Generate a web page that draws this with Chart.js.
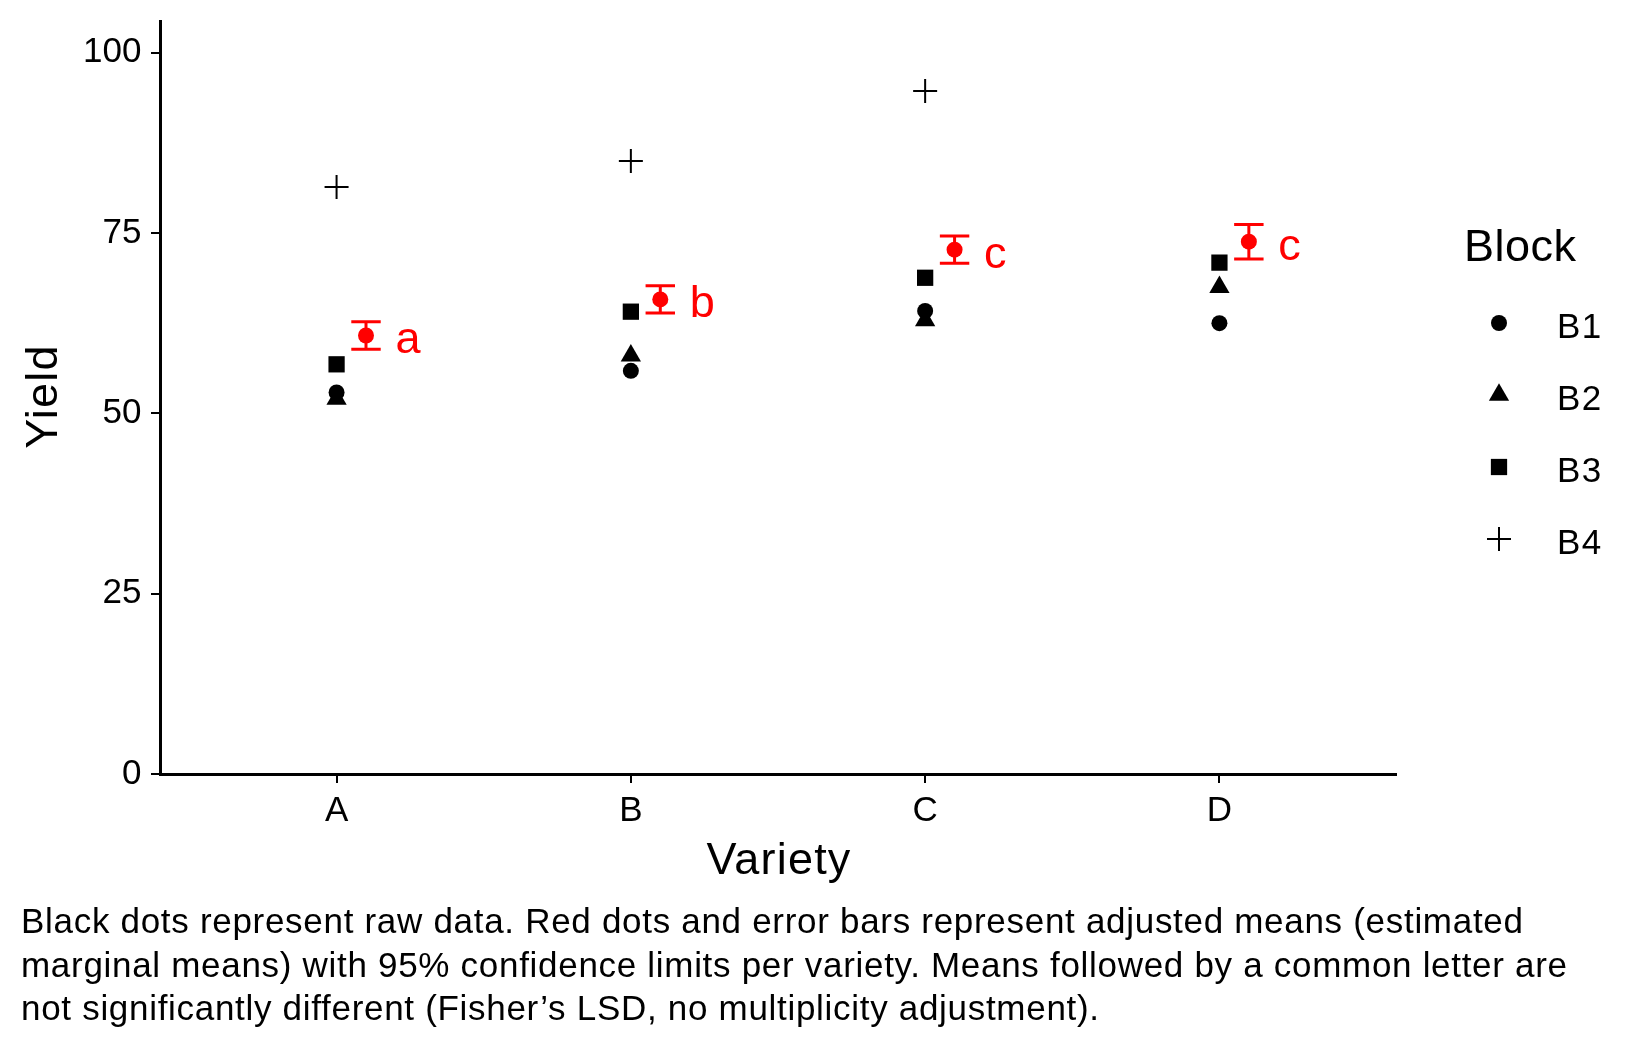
<!DOCTYPE html>
<html><head><meta charset="utf-8">
<script src="https://cdn.jsdelivr.net/npm/chart.js@4.4.1/dist/chart.umd.min.js"></script>
<style>html,body{margin:0;padding:0;background:#fff;} canvas{display:block;}</style>
</head><body>
<canvas id="c" width="1650" height="1050"></canvas>
<script>
const categories = ['A', 'B', 'C', 'D'];
const blockNames = ['B1', 'B2', 'B3', 'B4'];
const yieldB1 = [52.9, 55.9, 64.2, 62.5];
const yieldB2 = [52.0, 58.0, 62.9, 67.5];
const yieldB3 = [56.8, 64.1, 68.8, 70.9];
const yieldB4 = [81.4, 85.0, 94.7, null];
const adjMean = [60.8, 65.8, 72.7, 73.8];
const lowerCL = [58.9, 63.9, 70.8, 71.4];
const upperCL = [62.7, 67.7, 74.6, 76.2];
const groupLetters = ['a', 'b', 'c', 'c'];
const yTicks = [0, 25, 50, 75, 100];
const yTitle = 'Yield';
const xTitle = 'Variety';
const legendTitle = 'Block';
const captionLines = [
  'Black dots represent raw data. Red dots and error bars represent adjusted means (estimated',
  'marginal means) with 95% confidence limits per variety. Means followed by a common letter are',
  'not significantly different (Fisher\u2019s LSD, no multiplicity adjustment).'
];

const FONT = '"Liberation Sans", Arial, sans-serif';
const MEAN_OFFSET = 0.1;
const CAP_HALF = 0.05;
const LETTER_OFFSET = 0.2;

const styles = [
  {pointStyle: 'circle', radius: 8, borderWidth: 0},
  {pointStyle: 'triangle', radius: 11.7, borderWidth: 0},
  {pointStyle: 'rect', radius: 11.5, borderWidth: 0},
  {pointStyle: 'cross', radius: 12, borderWidth: 2}
];
const blockValues = [yieldB1, yieldB2, yieldB3, yieldB4];

function toPoints(vals, off) {
  return categories.map((c, i) => ({x: i + 1 + off, y: vals[i]})).filter(p => p.y !== null);
}

const datasets = blockValues.map((vals, k) => ({
  label: blockNames[k],
  data: toPoints(vals, 0),
  pointStyle: styles[k].pointStyle,
  pointRadius: styles[k].radius,
  pointBorderWidth: styles[k].borderWidth,
  pointBackgroundColor: '#000',
  pointBorderColor: '#000',
  showLine: false
}));
datasets.push({
  label: 'mean',
  data: toPoints(adjMean, MEAN_OFFSET),
  pointStyle: 'circle',
  pointRadius: 8,
  pointBorderWidth: 0,
  pointBackgroundColor: '#ff0000',
  pointBorderColor: '#ff0000',
  showLine: false
});

function drawMarker(ctx, style, r, x, y) {
  ctx.beginPath();
  if (style === 'circle') {
    ctx.arc(x, y, r, 0, Math.PI * 2);
    ctx.fill();
  } else if (style === 'triangle') {
    ctx.moveTo(x, y - r);
    ctx.lineTo(x + Math.sin(2 * Math.PI / 3) * r, y + 0.5 * r);
    ctx.lineTo(x - Math.sin(2 * Math.PI / 3) * r, y + 0.5 * r);
    ctx.closePath();
    ctx.fill();
  } else if (style === 'rect') {
    const s = Math.SQRT1_2 * r;
    ctx.rect(x - s, y - s, 2 * s, 2 * s);
    ctx.fill();
  } else if (style === 'cross') {
    ctx.moveTo(x, y - r); ctx.lineTo(x, y + r);
    ctx.moveTo(x - r, y); ctx.lineTo(x + r, y);
    ctx.stroke();
  }
}

function spacing(ctx, px) {
  if ('letterSpacing' in ctx) ctx.letterSpacing = px + 'px';
}

const extras = {
  id: 'extras',
  beforeDatasetsDraw(chart) {
    const ctx = chart.ctx, xs = chart.scales.x, ys = chart.scales.y;
    ctx.save();
    ctx.strokeStyle = '#ff0000';
    ctx.lineWidth = 3;
    categories.forEach((c, i) => {
      const xc = xs.getPixelForValue(i + 1 + MEAN_OFFSET);
      const x0 = xs.getPixelForValue(i + 1 + MEAN_OFFSET - CAP_HALF);
      const x1 = xs.getPixelForValue(i + 1 + MEAN_OFFSET + CAP_HALF);
      const yl = ys.getPixelForValue(lowerCL[i]);
      const yh = ys.getPixelForValue(upperCL[i]);
      ctx.beginPath();
      ctx.moveTo(xc, yl); ctx.lineTo(xc, yh);
      ctx.moveTo(x0, yl); ctx.lineTo(x1, yl);
      ctx.moveTo(x0, yh); ctx.lineTo(x1, yh);
      ctx.stroke();
    });
    ctx.restore();
  },
  afterDatasetsDraw(chart) {
    const ctx = chart.ctx, xs = chart.scales.x, ys = chart.scales.y;
    ctx.save();
    ctx.fillStyle = '#ff0000';
    ctx.font = '45px ' + FONT;
    ctx.textAlign = 'left';
    ctx.textBaseline = 'alphabetic';
    categories.forEach((c, i) => {
      ctx.fillText(groupLetters[i], xs.getPixelForValue(i + 1 + LETTER_OFFSET), ys.getPixelForValue(adjMean[i]) + 18);
    });
    ctx.restore();
  },
  afterDraw(chart) {
    const ctx = chart.ctx, area = chart.chartArea;
    ctx.save();
    ctx.fillStyle = '#000';
    ctx.strokeStyle = '#000';
    ctx.textBaseline = 'alphabetic';
    // axis titles
    ctx.font = '45px ' + FONT;
    ctx.textAlign = 'center';
    spacing(ctx, 1.2);
    ctx.fillText(xTitle, (area.left + area.right) / 2 + 1, 874);
    ctx.save();
    ctx.translate(57, (area.top + area.bottom) / 2);
    ctx.rotate(-Math.PI / 2);
    ctx.fillText(yTitle, 1, 0);
    ctx.restore();
    // legend
    ctx.textAlign = 'left';
    ctx.font = '45px ' + FONT;
    spacing(ctx, 0.5);
    ctx.fillText(legendTitle, 1464, 261);
    ctx.font = '35px ' + FONT;
    spacing(ctx, 1.5);
    blockNames.forEach((b, k) => {
      const yc = 323 + 72 * k;
      ctx.lineWidth = styles[k].borderWidth || 1;
      drawMarker(ctx, styles[k].pointStyle, styles[k].radius, 1499, yc);
      ctx.fillText(b, 1557, 337.5 + 72 * k);
    });
    // caption
    ctx.font = '35px ' + FONT;
    spacing(ctx, 0.7);
    captionLines.forEach((line, j) => {
      ctx.fillText(line, 21, 933 + 43.5 * j);
    });
    ctx.restore();
  }
};

function zeroPad(scale) {
  scale.paddingTop = 0; scale.paddingBottom = 0;
  scale.paddingLeft = 0; scale.paddingRight = 0;
}

new Chart(document.getElementById('c'), {
  type: 'scatter',
  data: {datasets},
  options: {
    responsive: false,
    animation: false,
    devicePixelRatio: 1,
    layout: {padding: {left: 0, top: 21, right: 254, bottom: 0}},
    plugins: {legend: {display: false}, tooltip: {enabled: false}, title: {display: false}},
    scales: {
      x: {
        type: 'linear',
        min: 0.4, max: 4.6,
        afterBuildTicks(scale) { scale.ticks = categories.map((c, i) => ({value: i + 1})); },
        afterFit(scale) { scale.height = 1050 - 774; zeroPad(scale); },
        ticks: {
          callback: (v) => categories[Math.round(v) - 1],
          font: {family: FONT, size: 35},
          color: '#000',
          padding: 7,
          autoSkip: false,
          maxRotation: 0
        },
        grid: {display: true, drawOnChartArea: false, drawTicks: true, tickLength: 9, color: '#000', lineWidth: 2},
        border: {display: true, color: '#000', width: 3}
      },
      y: {
        min: 0, max: 104.4,
        afterBuildTicks(scale) { scale.ticks = yTicks.map(v => ({value: v})); },
        afterFit(scale) { scale.width = 160; zeroPad(scale); },
        ticks: {
          callback: (v) => String(v),
          font: {family: FONT, size: 35},
          color: '#000',
          padding: 9.5
        },
        grid: {display: true, drawOnChartArea: false, drawTicks: true, tickLength: 9, color: '#000', lineWidth: 2},
        border: {display: true, color: '#000', width: 3}
      }
    }
  },
  plugins: [extras]
});
</script>
</body></html>
